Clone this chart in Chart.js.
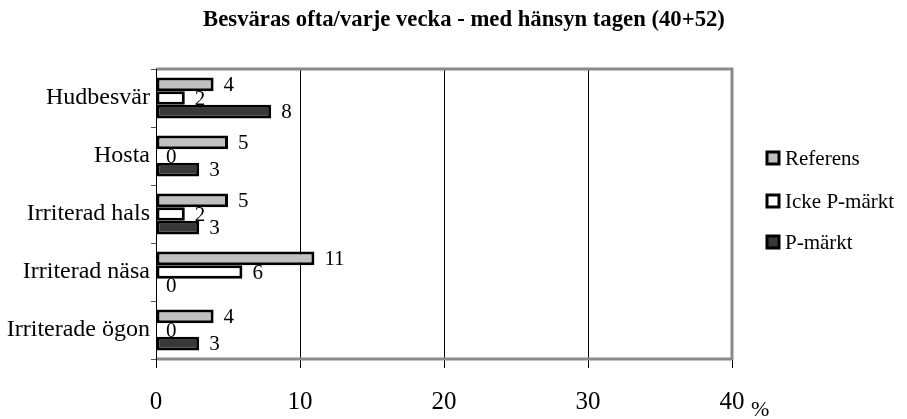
<!DOCTYPE html>
<html>
<head>
<meta charset="utf-8">
<script src="https://cdn.jsdelivr.net/npm/chart.js@4"></script>
<style>
html,body{margin:0;padding:0;background:#fff;}
#wrap{width:907px;height:419px;position:relative;}
</style>
</head>
<body>
<div id="wrap"><canvas id="c" width="907" height="419"></canvas></div>
<script>
const titleText = "Besväras ofta/varje vecka - med hänsyn tagen (40+52)";
const categories = ["Hudbesvär", "Hosta", "Irriterad hals", "Irriterad näsa", "Irriterade ögon"];
const seriesNames = ["Referens", "Icke P-märkt", "P-märkt"];
const referens = [4, 5, 5, 11, 4];
const ickePmarkt = [2, 0, 2, 6, 0];
const pmarkt = [8, 3, 3, 0, 3];
const xTicks = [0, 10, 20, 30, 40];
const unitLabel = "%";

const colors = ["#c0c0c0", "#ffffff", "#383838"];
const SERIF = "'Liberation Serif', 'DejaVu Serif', serif";

const deco = {
  id: 'deco',
  afterDatasetsDraw(chart) {
    const ctx = chart.ctx;
    const a = chart.chartArea;
    ctx.save();
    // borders
    ctx.strokeStyle = '#8a8a8a';
    ctx.lineWidth = 3;
    ctx.beginPath();
    ctx.moveTo(a.left, a.top);
    ctx.lineTo(a.right, a.top);
    ctx.lineTo(a.right, a.bottom);
    ctx.lineTo(a.left, a.bottom);
    ctx.stroke();
    ctx.strokeStyle = '#000';
    ctx.lineWidth = 1;
    ctx.beginPath();
    ctx.moveTo(a.left + 0.5, a.top);
    ctx.lineTo(a.left + 0.5, a.bottom + 9);
    ctx.stroke();
    // data labels
    ctx.fillStyle = '#000';
    ctx.font = '21px ' + SERIF;
    ctx.textBaseline = 'middle';
    ctx.textAlign = 'left';
    chart.data.datasets.forEach((ds, di) => {
      const meta = chart.getDatasetMeta(di);
      meta.data.forEach((el, i) => {
        const p = el.getProps(['x', 'y'], true);
        ctx.fillText(String(ds.data[i]), p.x + 10, p.y + 1);
      });
    });
    // title
    ctx.font = 'bold 20px ' + SERIF;
    const w = ctx.measureText(titleText).width;
    const size = 20 * 522 / w;
    ctx.font = 'bold ' + size.toFixed(2) + 'px ' + SERIF;
    ctx.textAlign = 'center';
    ctx.fillText(titleText, 464, 20);
    // unit label
    ctx.font = '22px ' + SERIF;
    ctx.textAlign = 'left';
    ctx.fillText(unitLabel, 751, 410);
    // legend
    const ys = [158, 201, 242];
    ctx.font = '21px ' + SERIF;
    seriesNames.forEach((n, i) => {
      ctx.fillStyle = colors[i];
      ctx.fillRect(767, ys[i] - 6, 12, 12);
      ctx.strokeStyle = '#000';
      ctx.lineWidth = 3;
      ctx.strokeRect(767, ys[i] - 6, 12, 12);
      ctx.fillStyle = '#000';
      ctx.fillText(n, 785, ys[i] + 1);
    });
    ctx.restore();
  }
};

new Chart(document.getElementById('c'), {
  type: 'bar',
  data: {
    labels: categories,
    datasets: [
      { label: seriesNames[0], data: referens, backgroundColor: colors[0] },
      { label: seriesNames[1], data: ickePmarkt, backgroundColor: colors[1] },
      { label: seriesNames[2], data: pmarkt, backgroundColor: colors[2] }
    ].map(d => Object.assign(d, { borderColor: '#000', borderWidth: 3, borderSkipped: false, categoryPercentage: 0.71, barPercentage: 1.0 }))
  },
  options: {
    indexAxis: 'y',
    responsive: false,
    animation: false,
    layout: { padding: { left: 0, top: 69, right: 175, bottom: 0 } },
    plugins: { legend: { display: false }, title: { display: false }, tooltip: { enabled: false } },
    scales: {
      x: {
        type: 'linear',
        min: 0, max: 40,
        afterBuildTicks(scale) { scale.ticks = xTicks.map(v => ({ value: v })); },
        afterFit(scale) { scale.height = 60; },
        border: { display: false },
        grid: {
          color: c => (c.tick && c.tick.value > 0 && c.tick.value < 40) ? '#000' : 'rgba(0,0,0,0)',
          tickColor: '#000',
          tickLength: 9,
          lineWidth: 1
        },
        ticks: { color: '#000', font: { family: SERIF, size: 25 }, padding: 19, maxRotation: 0 }
      },
      y: {
        afterFit(scale) { scale.width = 156; },
        border: { display: false },
        grid: { drawOnChartArea: false, tickColor: '#555', tickLength: 5, offset: true },
        ticks: { color: '#000', font: { family: SERIF, size: 24 }, padding: 1 }
      }
    }
  },
  plugins: [deco]
});
</script>
</body>
</html>
